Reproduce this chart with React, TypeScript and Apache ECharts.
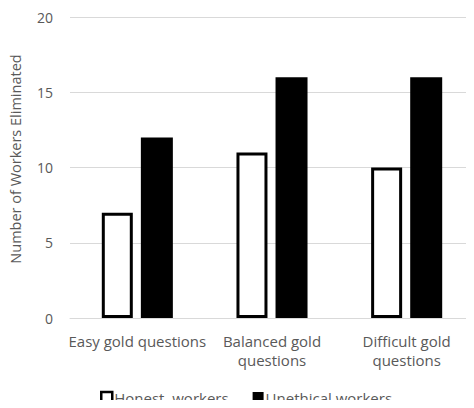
import React, { useEffect, useRef } from "react";
import * as echarts from "echarts";

const categories = ["Easy gold questions", "Balanced gold\nquestions", "Difficult gold\nquestions"];
const honestWorkers = [7, 11, 10];
const unethicalWorkers = [12, 16, 16];
const yTicks = { min: 0, max: 20, interval: 5 };

const FONT = "'Open Sans', 'Liberation Sans', sans-serif";
const TEXT = "#595959";

export default function App() {
  const ref = useRef<HTMLDivElement>(null);

  useEffect(() => {
    if (!ref.current) return;
    const chart = echarts.init(ref.current, undefined, { renderer: "svg" });
    chart.setOption({
      animation: false,
      textStyle: { fontFamily: FONT },
      // the plot runs slightly past the right edge of the canvas
      grid: { left: 70, right: -10, top: 17, bottom: 90, containLabel: false },
      legend: {
        top: 385,
        left: 95,
        itemWidth: 11,
        itemHeight: 11,
        itemGap: 24,
        icon: "rect",
        textStyle: { color: TEXT, fontSize: 15, lineHeight: 15, fontFamily: FONT, padding: [0, 0, 0, -3] },
        data: [
          { name: "Honest  workers", itemStyle: { color: "#fff", borderColor: "#000", borderWidth: 2.5 } },
          { name: "Unethical workers", itemStyle: { color: "#000" } },
        ],
      },
      xAxis: {
        type: "category",
        data: categories,
        axisLine: { lineStyle: { color: "#d9d9d9", width: 1 } },
        axisTick: { show: false },
        axisLabel: { color: TEXT, fontSize: 15, fontFamily: FONT, margin: 13, lineHeight: 19, interval: 0 },
      },
      yAxis: {
        type: "value",
        min: yTicks.min,
        max: yTicks.max,
        interval: yTicks.interval,
        name: "Number of Workers Eliminated",
        nameLocation: "middle",
        nameGap: 47,
        nameTextStyle: { color: TEXT, fontSize: 14.5, fontFamily: FONT, padding: [0, 0, 0, 17] },
        axisLine: { show: false },
        axisTick: { show: false },
        axisLabel: { color: TEXT, fontSize: 14, fontFamily: FONT, margin: 17 },
        splitLine: { lineStyle: { color: "#d9d9d9", width: 1 } },
      },
      series: [
        {
          name: "Honest  workers",
          type: "bar",
          data: honestWorkers,
          barWidth: 31,
          barGap: "26%",
          itemStyle: { color: "#fff", borderColor: "#000", borderWidth: 3 },
        },
        {
          name: "Unethical workers",
          type: "bar",
          data: unethicalWorkers,
          barWidth: 32,
          itemStyle: { color: "#000" },
        },
      ],
    });
    return () => chart.dispose();
  }, []);

  return <div ref={ref} style={{ width: 474, height: 408, margin: -8 }} />;
}
